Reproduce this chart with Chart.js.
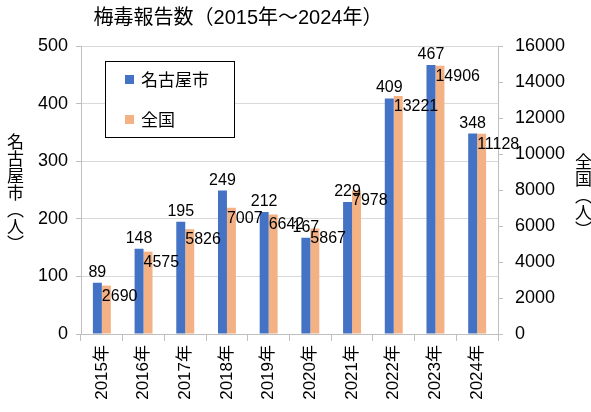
<!DOCTYPE html>
<html>
<head>
<meta charset="utf-8">
<script src="https://cdn.jsdelivr.net/npm/chart.js@4"></script>
<style>
  html, body { margin: 0; padding: 0; background: #fff; }
  #wrap { position: relative; width: 591px; height: 412px; }
  .ytitle {
    position: absolute;
    writing-mode: vertical-rl;
    font-family: "Noto Sans CJK JP", sans-serif;
    font-size: 17px;
    color: #000;
    line-height: 1;
  }
</style>
</head>
<body>
<div id="wrap">
  <canvas id="chart" width="591" height="412"></canvas>
  <div class="ytitle" style="left:7px; top:133px;">名古屋市（人）</div>
  <div class="ytitle" style="left:575px; top:153px;">全国（人）</div>
</div>
<script>
// ---- DATA ----
const years = ['2015年', '2016年', '2017年', '2018年', '2019年', '2020年', '2021年', '2022年', '2023年', '2024年'];
const nagoya = [89, 148, 195, 249, 212, 167, 229, 409, 467, 348];
const national = [2690, 4575, 5826, 7007, 6642, 5867, 7978, 13221, 14906, 11128];
const seriesNames = ['名古屋市', '全国'];

const FONT = '"Liberation Sans", "Noto Sans CJK JP", sans-serif';
const BLUE = '#4472C4';
const ORANGE = '#F4B183';

// title, data labels and in-plot legend
const decorPlugin = {
  id: 'decor',
  afterDatasetsDraw(chart) {
    const ctx = chart.ctx;
    ctx.save();
    ctx.fillStyle = '#000';
    ctx.font = '16px ' + FONT;

    const m0 = chart.getDatasetMeta(0);
    const m1 = chart.getDatasetMeta(1);
    m0.data.forEach((bar, i) => {
      ctx.textAlign = 'center';
      ctx.textBaseline = 'alphabetic';
      ctx.fillText(nagoya[i], bar.x, bar.y - 6);
    });
    m1.data.forEach((bar, i) => {
      ctx.textAlign = 'left';
      ctx.textBaseline = 'alphabetic';
      ctx.fillText(national[i], bar.x - bar.width / 2, bar.y + 15);
    });

    // title
    ctx.font = '20px ' + FONT;
    ctx.textAlign = 'center';
    ctx.textBaseline = 'middle';
    ctx.fillText('梅毒報告数（2015年～2024年）', 238, 18);

    // legend box
    ctx.fillStyle = '#fff';
    ctx.fillRect(105, 61, 129, 76);
    ctx.strokeStyle = '#000';
    ctx.lineWidth = 1;
    ctx.strokeRect(105.5, 61.5, 129, 76);
    ctx.font = '17px "Noto Sans CJK JP", sans-serif';
    ctx.textAlign = 'left';
    const cols = [BLUE, ORANGE];
    seriesNames.forEach((name, i) => {
      const y = 80 + i * 40;
      ctx.fillStyle = cols[i];
      ctx.fillRect(125, y - 5, 9, 9);
      ctx.fillStyle = '#000';
      ctx.fillText(name, 141, y);
    });
    ctx.restore();
  }
};

new Chart(document.getElementById('chart'), {
  type: 'bar',
  data: {
    labels: years,
    datasets: [
      {
        label: seriesNames[0],
        data: nagoya,
        backgroundColor: BLUE,
        yAxisID: 'y',
        categoryPercentage: 0.43,
        barPercentage: 1,
      },
      {
        label: seriesNames[1],
        data: national,
        backgroundColor: ORANGE,
        yAxisID: 'y2',
        categoryPercentage: 0.43,
        barPercentage: 1,
      },
    ],
  },
  options: {
    responsive: false,
    animation: false,
    layout: { padding: { top: 46, left: 0, right: 0, bottom: 0 } },
    plugins: {
      legend: { display: false },
      title: { display: false },
      tooltip: { enabled: false },
    },
    scales: {
      x: {
        grid: { drawOnChartArea: false, drawTicks: true, tickLength: 7, offset: true, color: '#bfbfbf' },
        border: { color: '#bfbfbf' },
        ticks: { color: '#000', font: { family: FONT, size: 17 }, maxRotation: 90, minRotation: 90, padding: 4 },
        afterFit(s) { s.height = 78; },
      },
      y: {
        position: 'left',
        min: 0, max: 500,
        ticks: { stepSize: 100, color: '#000', font: { family: FONT, size: 18 }, padding: 8 },
        grid: { color: '#d9d9d9', tickLength: 5, tickColor: '#bfbfbf' },
        border: { color: '#bfbfbf' },
        afterFit(s) { s.width = 81; },
      },
      y2: {
        position: 'right',
        min: 0, max: 16000,
        ticks: {
          stepSize: 2000, color: '#000', font: { family: FONT, size: 18 }, padding: 12,
          callback: v => String(v),
        },
        grid: { drawOnChartArea: false, tickLength: 5, color: '#bfbfbf' },
        border: { color: '#bfbfbf' },
        afterFit(s) { s.width = 93; },
      },
    },
  },
  plugins: [decorPlugin],
});
</script>
</body>
</html>
